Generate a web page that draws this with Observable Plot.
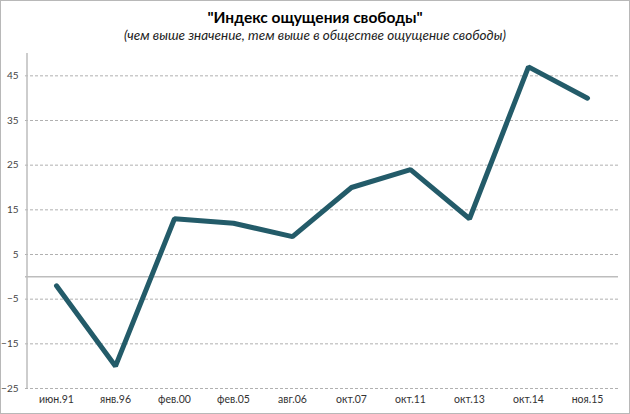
<!DOCTYPE html>
<html><head><meta charset="utf-8">
<script src="https://cdn.jsdelivr.net/npm/d3@7"></script>
<script src="https://cdn.jsdelivr.net/npm/@observablehq/plot@0.6"></script>
<style>
html,body{margin:0;padding:0;background:#fff;}
#frame{width:630px;height:414px;box-sizing:border-box;border:1px solid #b8b8b8;position:relative;overflow:hidden;font-family:Lato,"Open Sans",sans-serif;}
#title{height:44px;text-align:center;}
#t1{font-weight:bold;font-size:15.5px;color:#000;padding-top:7px;line-height:18px;}
#t2{font-style:italic;font-size:13.5px;color:#222;line-height:17px;margin-top:1px;}
</style></head>
<body><div id="frame"><div id="title"><div id="t1">"Индекс ощущения свободы"</div><div id="t2">(чем выше значение, тем выше в обществе ощущение свободы)</div></div><div id="chart"></div></div>
<script>
const categories = ["июн.91","янв.96","фев.00","фев.05","авг.06","окт.07","окт.11","окт.13","окт.14","ноя.15"];
const values = [-2, -20, 13, 12, 9, 20, 24, 13, 47, 40];
const yTicks = [45, 35, 25, 15, 5, -5, -15, -25];

const data = categories.map((c, i) => ({cat: c, v: values[i]}));

const chart = Plot.plot({
  width: 628,
  height: 368,
  marginTop: 8,
  marginBottom: 25,
  marginLeft: 24,
  marginRight: 11,
  style: {fontFamily: "Lato,'Open Sans',sans-serif", background: "transparent"},
  x: {type: "point", domain: categories, padding: 0.5, label: null},
  y: {domain: [-25, 50], label: null},
  marks: [
    Plot.ruleY(yTicks, {stroke: "#b0b0b0", strokeDasharray: "3,2", strokeWidth: 1}),
    Plot.ruleY([0], {stroke: "#bdbdbd", strokeWidth: 1.5}),
    Plot.ruleX([categories[0]], {stroke: "#bdbdbd", strokeWidth: 1.5, dx: -29.5, y1: -25, y2: 50}),
    Plot.axisY(yTicks, {tickSize: 0, tickPadding: 7, fontSize: 10, fill: "#444", label: null}),
    Plot.axisX({tickSize: 0, tickPadding: 7, fontSize: 10.5, fill: "#333", label: null}),
    Plot.line(data, {x: "cat", y: "v", stroke: "#235b69", strokeWidth: 5, strokeLinejoin: "miter", strokeLinecap: "round"})
  ]
});
document.getElementById("chart").appendChild(chart);
</script></body></html>
